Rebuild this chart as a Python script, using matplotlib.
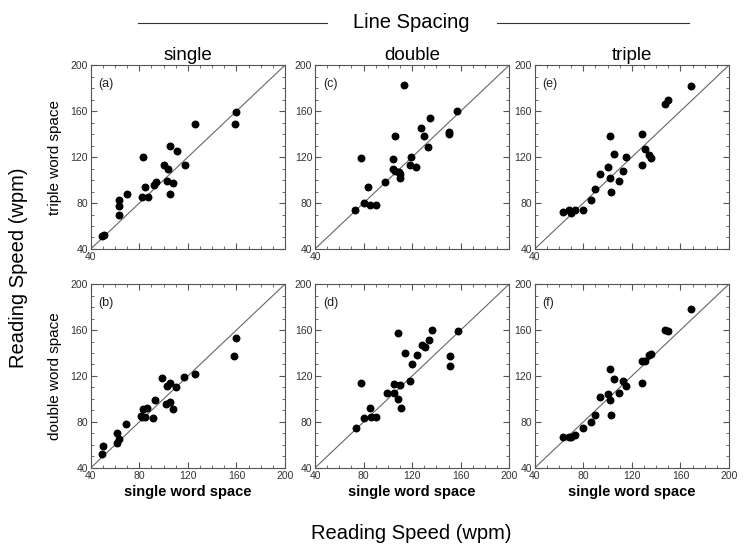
import matplotlib
matplotlib.use('Agg')
import matplotlib.pyplot as plt
from matplotlib.ticker import MultipleLocator
from matplotlib.lines import Line2D

plt.rcParams['font.family'] = ['Liberation Sans', 'DejaVu Sans']

# reading speeds (wpm), x = single word space, y = triple / double word space
# (a) single line spacing, triple word space
a_x = [49, 51, 63, 63, 63, 70, 82, 83, 85, 87, 92, 94, 100, 103, 104, 105, 105, 108, 111, 118, 126, 159, 160]
a_y = [51, 52, 83, 77, 70, 88, 85, 120, 94, 85, 96, 98, 113, 99, 110, 130, 88, 97, 125, 113, 149, 149, 159]
# (c) double line spacing, triple word space
c_x = [73, 78, 80, 84, 85, 90, 98, 104, 104, 106, 106, 109, 110, 110, 113, 118, 119, 123, 127, 130, 133, 135, 150, 150, 157]
c_y = [74, 119, 80, 94, 78, 78, 98, 118, 110, 138, 108, 107, 105, 102, 183, 113, 120, 111, 145, 138, 129, 154, 142, 140, 160]
# (e) triple line spacing, triple word space
e_x = [63, 68, 70, 73, 80, 86, 90, 94, 100, 102, 102, 103, 105, 109, 113, 115, 128, 128, 131, 134, 136, 147, 150, 169]
e_y = [72, 74, 71, 74, 74, 83, 92, 105, 111, 102, 138, 90, 123, 99, 108, 120, 140, 113, 127, 122, 119, 166, 170, 182]
# (b) single line spacing, double word space
b_x = [49, 50, 62, 63, 62, 69, 81, 82, 83, 85, 86, 91, 93, 99, 102, 103, 105, 105, 108, 110, 117, 126, 158, 160]
b_y = [52, 59, 70, 65, 62, 78, 85, 84, 91, 84, 92, 83, 99, 118, 96, 111, 114, 97, 91, 110, 119, 122, 137, 153]
# (d) double line spacing, double word space
d_x = [74, 78, 80, 85, 86, 90, 99, 105, 105, 108, 108, 110, 111, 114, 118, 120, 124, 128, 131, 134, 136, 151, 151, 158]
d_y = [75, 114, 83, 92, 84, 84, 105, 105, 113, 157, 100, 112, 92, 140, 116, 130, 138, 147, 145, 151, 160, 137, 129, 159]
# (f) triple line spacing, double word space
f_x = [63, 68, 70, 73, 80, 86, 90, 94, 100, 102, 102, 103, 105, 109, 113, 115, 128, 128, 131, 134, 136, 147, 150, 169]
f_y = [67, 67, 67, 69, 75, 80, 86, 102, 104, 99, 126, 86, 117, 105, 116, 111, 133, 114, 133, 138, 139, 160, 159, 178]

col_titles = ['single', 'double', 'triple']
row_labels = ['triple word space', 'double word space']
panels = [[('(a)', a_x, a_y), ('(c)', c_x, c_y), ('(e)', e_x, e_y)],
          [('(b)', b_x, b_y), ('(d)', d_x, d_y), ('(f)', f_x, f_y)]]
ticks = [40, 80, 120, 160, 200]

fig = plt.figure(figsize=(7.5, 5.57), dpi=100)
lefts = [0.121, 0.420, 0.713]
bottoms = [0.553, 0.160]
w, h = 0.259, 0.330

for r in range(2):
    for c in range(3):
        name, xs, ys = panels[r][c]
        ax = fig.add_axes([lefts[c], bottoms[r], w, h])
        ax.plot([40, 200], [40, 200], color='#666666', lw=0.8, zorder=1)
        ax.scatter(xs, ys, s=22, color='black', zorder=2)
        ax.set_xlim(40, 200)
        ax.set_ylim(40, 200)
        ax.set_xticks(ticks)
        ax.set_yticks(ticks)
        ax.xaxis.set_minor_locator(MultipleLocator(10))
        ax.yaxis.set_minor_locator(MultipleLocator(10))
        ax.tick_params(which='both', direction='in', top=True, right=True,
                       color='#555555', labelsize=7.5, labelcolor='#333333', pad=2)
        ax.tick_params(which='major', length=4)
        ax.tick_params(which='minor', length=2)
        for sp in ax.spines.values():
            sp.set_color('#555555')
            sp.set_linewidth(0.8)
        if r == 0:
            ax.set_xticklabels(['40', '', '', '', ''])
            ax.set_title(col_titles[c], fontsize=13.5, pad=4)
        else:
            ax.set_xlabel('single word space', fontsize=10.5, fontweight='bold', labelpad=3)
        if c == 0:
            ax.set_ylabel(row_labels[r], fontsize=11, labelpad=6)
        ax.text(0.04, 0.93, name, transform=ax.transAxes, fontsize=9,
                va='top', ha='left', color='#222222')

fig.text(0.548, 0.959, 'Line Spacing', fontsize=14.5, ha='center', va='center')
fig.add_artist(Line2D([0.184, 0.436], [0.959, 0.959], color='#333333', lw=0.8))
fig.add_artist(Line2D([0.662, 0.918], [0.959, 0.959], color='#333333', lw=0.8))
fig.text(0.548, 0.043, 'Reading Speed (wpm)', fontsize=14.5, ha='center', va='center')
fig.text(0.025, 0.52, 'Reading Speed (wpm)', fontsize=14.5, ha='center', va='center', rotation=90)

fig.savefig('out.png', dpi=100)
